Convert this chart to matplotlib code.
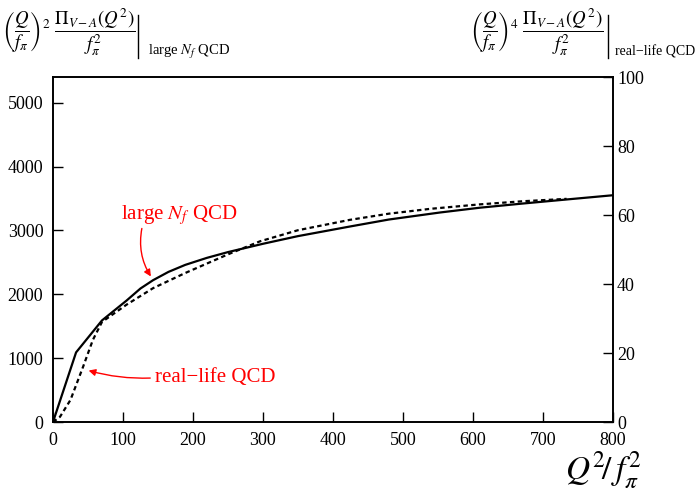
import matplotlib
matplotlib.use("Agg")
import matplotlib.pyplot as plt
from matplotlib.lines import Line2D

plt.rcParams['font.family'] = ['Liberation Serif', 'DejaVu Serif']
plt.rcParams['mathtext.fontset'] = 'stix'

# large N_f QCD (left axis)
q2_large = [0, 33, 70, 105, 125, 143, 165, 189, 220, 250, 300, 350, 424, 480, 553, 610, 671, 740, 800]
pi_large = [0, 1090, 1590, 1900, 2090, 2220, 2350, 2460, 2570, 2660, 2790, 2910, 3060, 3170, 3280, 3355, 3420, 3490, 3550]

# real-life QCD (right axis)
q2_real = [0, 10, 25, 43, 57, 70, 105, 143, 189, 250, 296, 350, 424, 480, 539, 610, 671, 734]
pi_real = [0, 1.5, 6.4, 16, 23.8, 29, 34, 38.8, 43.2, 48.6, 52.4, 55.6, 58.6, 60.4, 61.8, 63.1, 64.0, 64.7]

x_ticks = [0, 100, 200, 300, 400, 500, 600, 700, 800]
left_ticks = [0, 1000, 2000, 3000, 4000, 5000]
right_ticks = [0, 20, 40, 60, 80, 100]

fig = plt.figure(figsize=(6.98, 4.91), dpi=100)
ax = fig.add_axes([0.0759, 0.1405, 0.802, 0.7025])
ax2 = ax.twinx()

ax.plot(q2_large, pi_large, color='black', lw=1.6)
ax2.plot(q2_real, pi_real, color='black', lw=1.6, ls=(0, (2, 1.5)))

ax.set_xlim(0, 800)
ax.set_ylim(0, 5400)
ax2.set_ylim(0, 100)
ax.set_xticks(x_ticks)
ax.set_yticks(left_ticks)
ax2.set_yticks(right_ticks)

ax.tick_params(axis='both', direction='in', length=7, width=1, labelsize=13)
ax.tick_params(axis='y', pad=7)
ax.tick_params(axis='x', pad=7)
ax2.tick_params(axis='y', direction='in', length=7, width=1, labelsize=13, pad=3)
for a in (ax, ax2):
    for s in a.spines.values():
        s.set_linewidth(1.2)

# annotations
ax.text(181, 3234, r'large $N_f$ QCD', color='red', fontsize=15,
        ha='center', va='center')
ax.annotate('', xy=(141, 2260), xytext=(127, 3030),
            arrowprops=dict(arrowstyle='-|>', color='red', lw=1,
                            connectionstyle='arc3,rad=0.2',
                            shrinkA=0, shrinkB=1))
ax.text(232, 703, 'real\u2212life QCD', color='red', fontsize=15,
        ha='center', va='center')
ax.annotate('', xy=(49, 812), xytext=(139, 688),
            arrowprops=dict(arrowstyle='-|>', color='red', lw=1,
                            connectionstyle='arc3,rad=-0.08',
                            shrinkA=0, shrinkB=1))

# top formulas
fig.text(0.003, 0.935,
         r'$\left(\dfrac{Q}{f_\pi}\right)^{2}\ \dfrac{\Pi_{V-A}(Q^{2})}{f_\pi^{2}}$',
         fontsize=13.5, ha='left', va='center')
fig.add_artist(Line2D([0.198, 0.198], [0.882, 0.969], color='black', lw=1,
                      transform=fig.transFigure))
fig.text(0.212, 0.895, r'large $N_f$ QCD', fontsize=10.5, ha='left', va='center')

fig.text(0.674, 0.935,
         r'$\left(\dfrac{Q}{f_\pi}\right)^{4}\ \dfrac{\Pi_{V-A}(Q^{2})}{f_\pi^{2}}$',
         fontsize=13.5, ha='left', va='center')
fig.add_artist(Line2D([0.871, 0.871], [0.882, 0.969], color='black', lw=1,
                      transform=fig.transFigure))
fig.text(0.881, 0.895, 'real\u2212life QCD', fontsize=10, ha='left', va='center')

# x label
fig.text(0.864, 0.043, r'$Q^{2}\!/\,f_\pi^{2}$', fontsize=24, ha='center', va='center')

fig.savefig('out.png', dpi=100)
